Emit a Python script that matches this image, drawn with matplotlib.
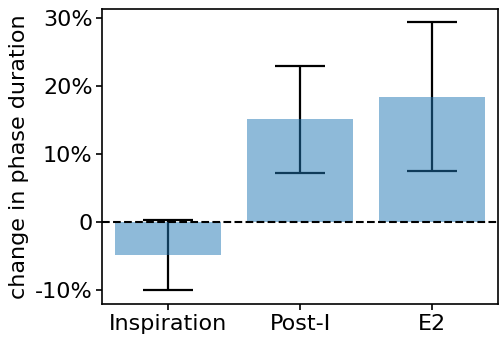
import matplotlib
matplotlib.use("Agg")
import matplotlib.pyplot as plt
from matplotlib.ticker import FuncFormatter

categories = ["Inspiration", "Post-I", "E2"]
means = [-4.85, 15.1, 18.4]
errors = [5.15, 7.85, 10.95]
yticks = [-10, 0, 10, 20, 30]

plt.rcParams['font.family'] = ['DejaVu Sans']
fig = plt.figure(figsize=(4.99, 3.40), dpi=100)
ax = fig.add_axes([0.205, 0.106, 0.793, 0.868])

x = list(range(len(categories)))
ax.errorbar(x, means, yerr=errors, fmt='none', ecolor='black', elinewidth=1.6,
            capsize=18, capthick=1.6, zorder=1)
ax.bar(x, means, width=0.8, color='tab:blue', alpha=0.5, zorder=2)
ax.axhline(0, color='black', linestyle='--', linewidth=1.5, zorder=3)

ax.set_xlim(-0.5, 2.5)
ax.set_ylim(-12.05, 31.3)
ax.set_xticks(x)
ax.set_xticklabels(categories)
ax.set_yticks(yticks)
ax.yaxis.set_major_formatter(FuncFormatter(lambda v, p: "0" if v == 0 else f"{v:.0f}%"))
ax.tick_params(labelsize=16, width=1.2, length=4, pad=3)
ax.set_ylabel("change in phase duration", fontsize=16, labelpad=4)
for s in ax.spines.values():
    s.set_linewidth(1.2)

fig.savefig("out.png", dpi=100)
